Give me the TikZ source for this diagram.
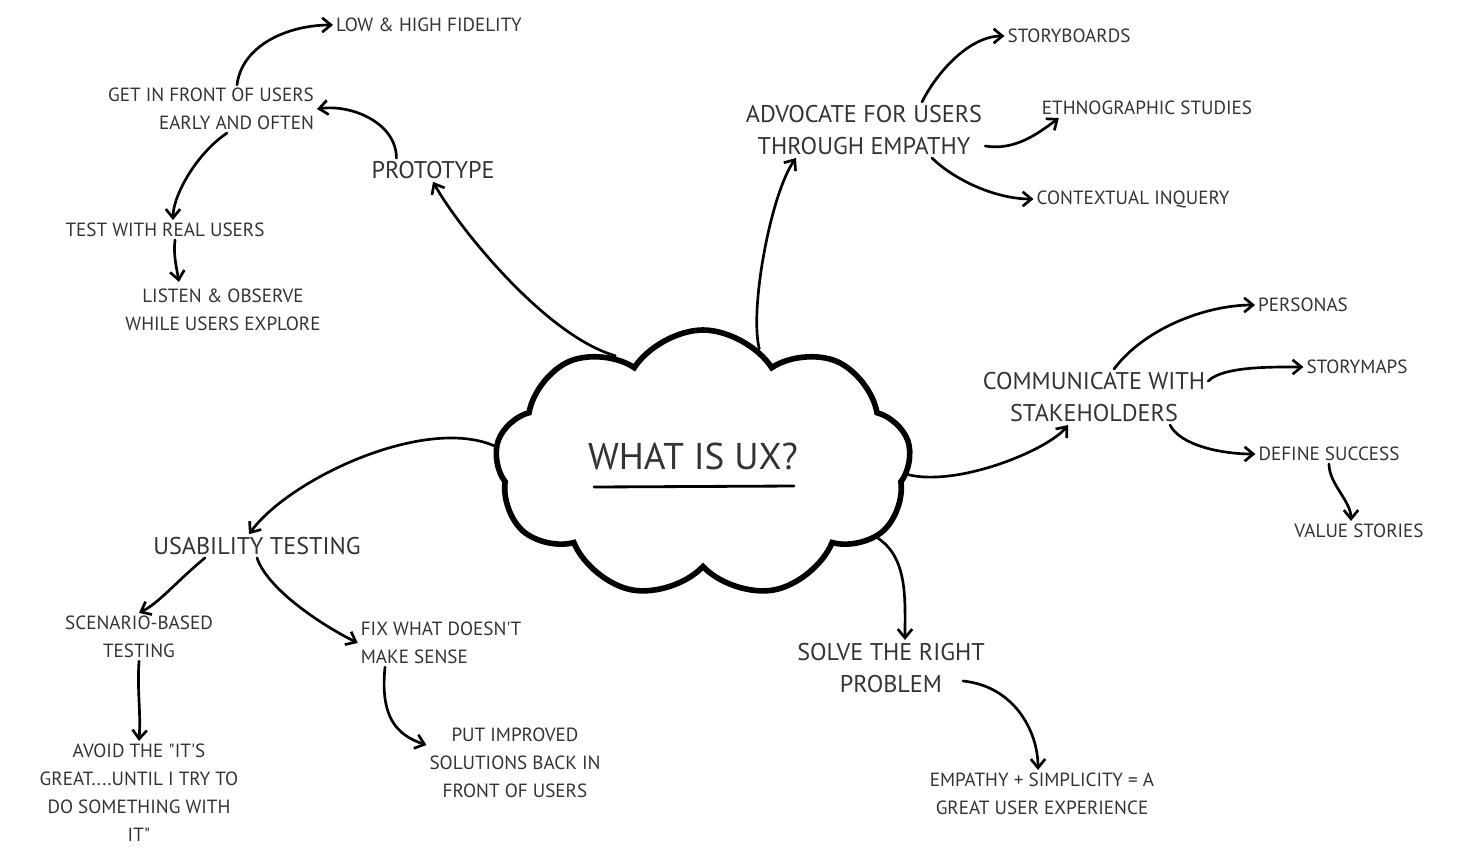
\documentclass[tikz,border=0pt]{standalone}
\usepackage{fontspec}
\setmainfont{PT Sans}
\usetikzlibrary{arrows.meta}
\usetikzlibrary{shapes.symbols}

\tikzset{
  lbl/.style={font=\fontsize{13.6}{20}\selectfont, text=black!80, align=center, inner sep=2pt},
  big/.style={font=\fontsize{17.2}{23}\selectfont, text=black!80, align=center, inner sep=2pt},
  link/.style={line width=1.9pt, line cap=round, -{Straight Barb[length=2.2mm, width=3.6mm]}}
}

\begin{document}
\begin{tikzpicture}[x=0.25mm, y=-0.25mm]
\useasboundingbox (0,0) rectangle (1475,850);

\node[cloud, draw, line width=4pt, cloud puffs=9, cloud puff arc=115, aspect=1.6, minimum width=104mm, minimum height=67mm] (cloud) at (703,464) {};
\node[font=\fontsize{26.5}{30}\selectfont, text=black!80] (title) at (693,456) {WHAT IS UX?};
\draw[line width=2pt, line cap=round] (title.center) ++(-99,31) -- ++(200,-1);

\node[big] (proto) at (433,170) {PROTOTYPE};
\node[lbl, align=right] (getfront) at (211,109) {GET IN FRONT OF USERS\\EARLY AND OFTEN};
\node[lbl] (lowhigh) at (429,25) {LOW \& HIGH FIDELITY};
\node[lbl] (testreal) at (165,230) {TEST WITH REAL USERS};
\node[lbl] (listen) at (223,310) {LISTEN \& OBSERVE\\WHILE USERS EXPLORE};

\node[big] (advocate) at (864,130) {ADVOCATE FOR USERS\\THROUGH EMPATHY};
\node[lbl] (storyboards) at (1069,36) {STORYBOARDS};
\node[lbl] (ethno) at (1147,108) {ETHNOGRAPHIC STUDIES};
\node[lbl] (contextual) at (1133,199) {CONTEXTUAL INQUERY};

\node[big] (communicate) at (1094,397) {COMMUNICATE WITH\\STAKEHOLDERS};
\node[lbl] (personas) at (1303,305) {PERSONAS};
\node[lbl] (storymaps) at (1357,367) {STORYMAPS};
\node[lbl] (define) at (1329,454) {DEFINE SUCCESS};
\node[lbl] (value) at (1359,531) {VALUE STORIES};

\node[big] (solve) at (891,668) {SOLVE THE RIGHT\\PROBLEM};
\node[lbl] (empathy) at (1042,794) {EMPATHY + SIMPLICITY = A\\GREAT USER EXPERIENCE};

\node[big] (usability) at (257,546) {USABILITY TESTING};
\node[lbl] (scenario) at (139,637) {SCENARIO-BASED\\TESTING};
\node[lbl, align=left] (fix) at (441,643) {FIX WHAT DOESN\textquotesingle T\\MAKE SENSE};
\node[lbl] (improved) at (515,763) {PUT IMPROVED\\SOLUTIONS BACK IN\\FRONT OF USERS};
\node[lbl] (avoid) at (139,793) {AVOID THE \textquotedbl IT\textquotesingle S\\GREAT....UNTIL I TRY TO\\DO SOMETHING WITH\\IT\textquotedbl};

\draw[link] (cloud.129) .. controls +(-70,-20) and +(25,45) .. (proto.south);
\draw[link] ([xshift=7mm]proto.north west) .. controls +(0,-35) and +(35,-5) .. (getfront.east);
\draw[link] ([xshift=6.5mm]getfront.north) .. controls +(5,-40) and +(-45,0) .. (lowhigh.west);
\draw[link] ([xshift=4mm]getfront.south) .. controls +(-30,20) and +(0,-25) .. ([xshift=2mm]testreal.north);
\draw[link] ([xshift=2.5mm]testreal.south) .. controls +(-2,15) and +(-2,-12) .. ([xshift=-11mm, yshift=1mm]listen.north);

\draw[link] (cloud.64) .. controls +(-10,-40) and +(-25,35) .. ([xshift=-17mm]advocate.south);
\draw[link] ([xshift=14.5mm]advocate.north) .. controls +(15,-30) and +(-35,0) .. (storyboards.west);
\draw[link] ([yshift=-4mm]advocate.east) .. controls +(30,5) and +(-20,15) .. ([xshift=5mm]ethno.south west);
\draw[link] ([xshift=17mm]advocate.south) .. controls +(20,20) and +(-40,0) .. (contextual.west);

\draw[link] (cloud.357) .. controls +(50,12) and +(-20,25) .. ([xshift=-6.5mm]communicate.south);
\draw[link] ([xshift=5mm]communicate.north) .. controls +(30,-40) and +(-50,0) .. (personas.west);
\draw[link] ([yshift=4mm]communicate.east) .. controls +(15,-15) and +(-30,0) .. (storymaps.west);
\draw[link] ([xshift=19mm]communicate.south) .. controls +(10,20) and +(-35,0) .. (define.west);
\draw[link] (define.south) .. controls +(0,20) and +(0,-20) .. ([xshift=-2mm]value.north);

\draw[link] (cloud.337) .. controls +(30,20) and +(0,-40) .. ([xshift=3.5mm]solve.north);
\draw[link] ([xshift=18mm, yshift=-3.25mm]solve.center) .. controls +(50,5) and +(0,-40) .. ([xshift=-1mm]empathy.north);

\draw[link] (cloud.175) .. controls +(-70,-30) and +(40,-55) .. ([xshift=-2mm]usability.north);
\draw[link] ([xshift=-13mm]usability.south) .. controls +(-30,25) and +(20,-10) .. (scenario.north);
\draw[link] (usability.south) .. controls +(10,30) and +(-40,-20) .. (fix.west);
\draw[link] (scenario.south) .. controls +(-2,30) and +(2,-30) .. (avoid.north);
\draw[link] ([xshift=-14mm]fix.south) .. controls +(-5,50) and +(-30,-10) .. ([yshift=4.5mm]improved.west);
\end{tikzpicture}
\end{document}
